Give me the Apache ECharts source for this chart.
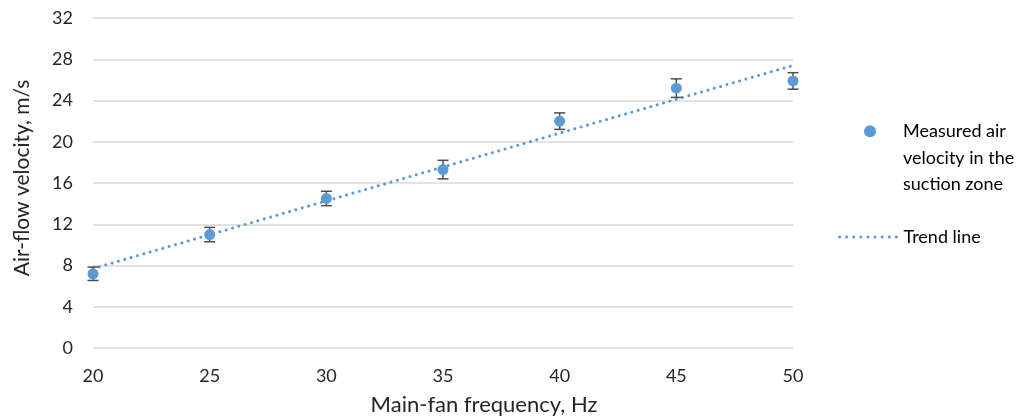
<!DOCTYPE html>
<html>
<head>
<meta charset="utf-8">
<script src="https://cdn.jsdelivr.net/npm/echarts@6/dist/echarts.min.js"></script>
<style>
  html, body { margin: 0; padding: 0; background: #fff; }
  #chart { width: 1030px; height: 417px; }
</style>
</head>
<body>
<div id="chart"></div>
<script>
// fan frequency (Hz) and measured velocity (m/s)
var freqHz = [20, 25, 30, 35, 40, 45, 50];
var velocity = [7.2, 11.0, 14.5, 17.3, 22.0, 25.2, 25.9];
var velocityErr = [0.65, 0.7, 0.7, 0.9, 0.8, 0.9, 0.8];
// trend line ends
var trendX = [20, 50];
var trendY = [7.7, 27.4];

var blue = '#5B9BD5';
var txt = '#262626';
var font = 'Lato, "Open Sans", sans-serif';
var measuredName = 'Measured air velocity in the suction zone';

var chart = echarts.init(document.getElementById('chart'));

var pts = freqHz.map(function (f, i) { return [f, velocity[i]]; });
var errData = freqHz.map(function (f, i) {
  return [f, velocity[i] - velocityErr[i], velocity[i] + velocityErr[i]];
});
var trendData = trendX.map(function (x, i) { return [x, trendY[i]]; });

var option = {
  animation: false,
  grid: { left: 93, right: 237, top: 18, bottom: 69, containLabel: false, outerBoundsMode: 'none' },
  xAxis: {
    type: 'value',
    min: 20, max: 50, interval: 5,
    name: 'Main-fan frequency, Hz',
    nameLocation: 'middle',
    nameGap: 46,
    nameTextStyle: { fontFamily: font, fontSize: 22, color: txt, padding: [0, 0, 0, 82] },
    axisLine: { show: false },
    axisTick: { show: false },
    splitLine: { show: false },
    axisLabel: { margin: 19, fontFamily: font, fontSize: 18, color: txt }
  },
  yAxis: {
    type: 'value',
    min: 0, max: 32, interval: 4,
    name: 'Air-flow velocity, m/s',
    nameLocation: 'middle',
    nameGap: 60,
    nameTextStyle: { fontFamily: font, fontSize: 21, color: txt, padding: [0, 0, 0, 10] },
    axisLine: { show: false },
    axisTick: { show: false },
    splitLine: { lineStyle: { color: '#D9D9D9', width: 1.5 } },
    axisLabel: { margin: 20, fontFamily: font, fontSize: 18, color: txt }
  },
  legend: [
    {
      data: [measuredName],
      left: 859, top: 60,
      itemWidth: 12, itemHeight: 12,
      formatter: function () {
        // two blank lines on top keep the marker beside the first line
        return '\n\nMeasured air\nvelocity in the\nsuction zone';
      },
      textStyle: { fontFamily: font, fontSize: 18, color: '#000', lineHeight: 26.5, padding: [0, 0, 0, 22] }
    },
    {
      data: ['Trend line'],
      left: 833, top: 223,
      itemWidth: 58, itemHeight: 14,
      itemStyle: { opacity: 0 },
      lineStyle: { width: 3, type: [0.1, 7], cap: 'round' },
      textStyle: { fontFamily: font, fontSize: 18, color: '#000', padding: [0, 0, 0, 1] }
    }
  ],
  series: [
    {
      name: 'Trend line',
      type: 'line',
      data: trendData,
      symbol: 'none',
      z: 2,
      lineStyle: { color: blue, width: 3, type: [0.1, 6.5], cap: 'round' },
      itemStyle: { color: blue }
    },
    {
      name: 'errors',
      type: 'custom',
      z: 3,
      data: errData,
      renderItem: function (params, api) {
        var x = api.value(0);
        var lo = api.coord([x, api.value(1)]);
        var hi = api.coord([x, api.value(2)]);
        var hw = 5.5;
        var st = { stroke: '#4D4D4D', lineWidth: 1.5 };
        return {
          type: 'group',
          children: [
            { type: 'line', shape: { x1: lo[0], y1: lo[1], x2: hi[0], y2: hi[1] }, style: st },
            { type: 'line', shape: { x1: lo[0] - hw, y1: lo[1], x2: lo[0] + hw, y2: lo[1] }, style: st },
            { type: 'line', shape: { x1: hi[0] - hw, y1: hi[1], x2: hi[0] + hw, y2: hi[1] }, style: st }
          ]
        };
      }
    },
    {
      name: measuredName,
      type: 'scatter',
      data: pts,
      symbol: 'circle',
      symbolSize: 11,
      z: 4,
      itemStyle: { color: blue, opacity: 1 }
    }
  ]
};

chart.setOption(option);
</script>
</body>
</html>
